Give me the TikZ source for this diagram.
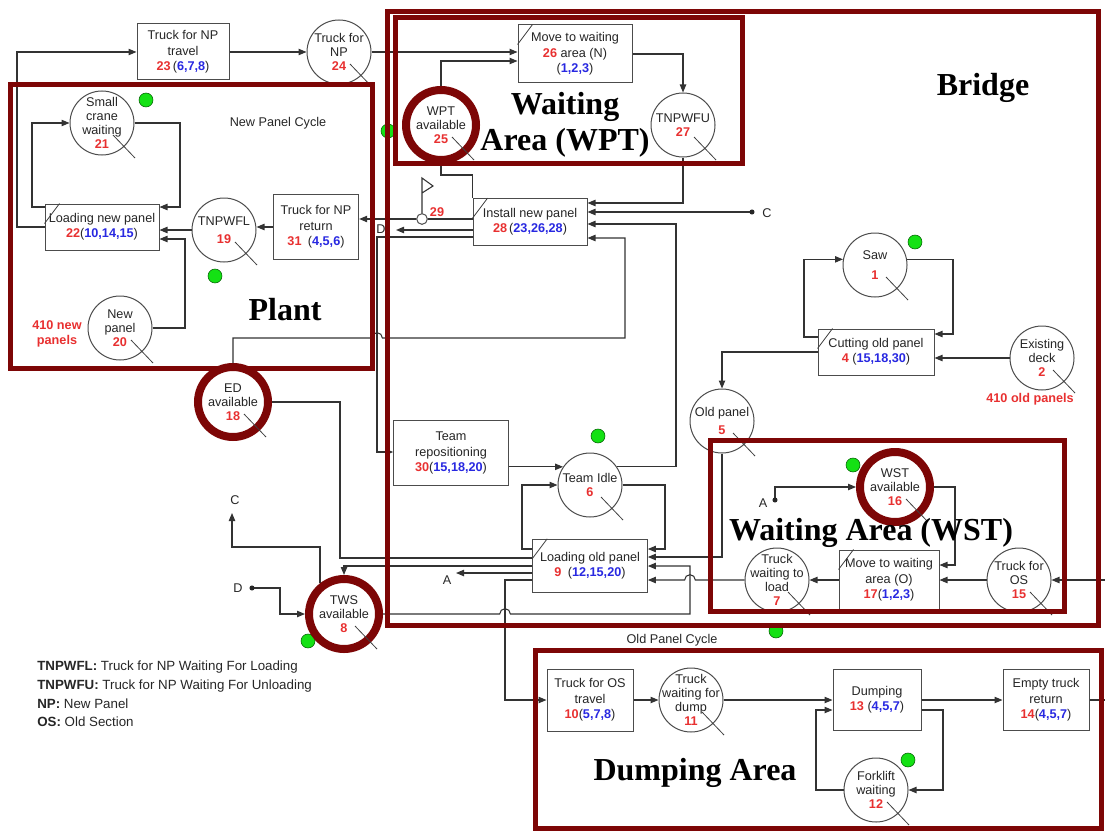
\documentclass[tikz,border=0pt]{standalone}
\usepackage{fontspec}
\setmainfont{Liberation Sans}
\newfontfamily\titlefont{Liberation Serif}
\usetikzlibrary{arrows.meta,calc}
\definecolor{zonered}{RGB}{125,6,6}
\definecolor{numred}{RGB}{232,48,48}
\definecolor{setblue}{RGB}{40,40,225}
\definecolor{dotgreen}{RGB}{20,225,20}
\newcommand{\pnum}[1]{\textcolor{numred}{\bfseries #1}}
\newcommand{\pset}[1]{(\textcolor{setblue}{\bfseries #1})}
\tikzset{
  nodefont/.style={font=\fontsize{9.5}{11.5}\selectfont},
  act/.style={rectangle, draw=black!70, line width=0.75pt, fill=white, text=black!85,
              align=center, inner sep=1pt, nodefont},
  que/.style={circle, draw=black!70, line width=0.75pt, fill=white, text=black!85,
              align=center, inner sep=-12pt, minimum size=48pt,
              font=\fontsize{9.5}{10.4}\selectfont},
  res/.style={que, draw=zonered, line width=6pt, minimum size=52.5pt},
  flagnode/.style={circle, draw=black!70, line width=0.75pt, fill=white,
                   minimum size=8pt, inner sep=0pt},
  ln/.style={line width=0.8pt, draw=black!80},
  arr/.style={ln, -{Triangle[length=6pt, width=4.8pt]}},
  lbl/.style={font=\fontsize{9.5}{11.5}\selectfont, text=black!85, inner sep=1pt},
  numlbl/.style={font=\fontsize{9.5}{11.5}\selectfont\bfseries, text=numred, inner sep=1pt},
  gdot/.style={fill=dotgreen, draw=green!35!black, line width=0.4pt},
  cnt/.style={line width=0.6pt, draw=black!75},
  zone/.style={draw=zonered, line width=3.75pt},
  ttl/.style={font=\titlefont\fontsize{24}{27}\selectfont\bfseries, inner sep=0pt},
}
\begin{document}
\begin{tikzpicture}[x=0.75pt, y=-0.75pt]
  \useasboundingbox (0,0) rectangle (1105,831);
  \foreach \gx/\gy in {146/100, 388/131, 215/276, 915/242, 598/436, 853/465, 776/631, 308/641, 908/760}
    \filldraw[gdot] (\gx,\gy) circle (5.25pt);

  \node[que] (n21) at (102,123) {Small\\crane\\waiting\\\pnum{21}};
  \node[act, minimum width=85.5pt, minimum height=34.5pt] (n22) at (102,227) {Loading new panel\\\pnum{22}\pset{10,14,15}};
  \node[que] (n19) at (224,230) {TNPWFL\\[3pt]\pnum{19}};
  \node[que] (n20) at (120,328) {New\\panel\\\pnum{20}};
  \node[act, minimum width=64pt, minimum height=49pt] (n31) at (316,227) {Truck for NP\\return\\\pnum{31}\enspace\pset{4,5,6}};
  \node[act, minimum width=69pt, minimum height=42pt] (n23) at (183,52) {Truck for NP\\travel\\\pnum{23}\,\pset{6,7,8}};
  \node[que] (n24) at (339,52) {Truck for\\NP\\\pnum{24}};
  \node[res] (n25) at (441,125) {WPT\\available\\\pnum{25}};
  \node[act, minimum width=85.5pt, minimum height=43.5pt] (n26) at (575,54) {Move to waiting\\\pnum{26} area (N)\\\pset{1,2,3}};
  \node[que] (n27) at (683,125) {TNPWFU\\\pnum{27}};
  \node[act, minimum width=85.5pt, minimum height=35pt] (n28) at (530,222) {Install new panel\\\pnum{28}\,\pset{23,26,28}};
  \node[flagnode] (n29) at (422,219) {};
  \node[numlbl] (l29) at (437,212) {29};
  \node[que] (n1) at (875,265) {Saw\\[5pt]\pnum{1}};
  \node[act, minimum width=87pt, minimum height=34.5pt] (n4) at (876,352) {Cutting old panel\\\pnum{4} \pset{15,18,30}};
  \node[que] (n2) at (1042,358) {Existing\\deck\\\pnum{2}};
  \node[numlbl] (l2) at (1030,399) {410 old panels};
  \node[que] (n5) at (722,421) {Old panel\\[3pt]\pnum{5}};
  \node[act, minimum width=86pt, minimum height=49pt] (n30) at (451,453) {Team\\repositioning\\\pnum{30}\pset{15,18,20}};
  \node[que] (n6) at (590,485) {Team Idle\\\pnum{6}};
  \node[act, minimum width=86pt, minimum height=40pt] (n9) at (590,566) {Loading old panel\\\pnum{9}\enspace\pset{12,15,20}};
  \node[res] (n18) at (233,402) {ED\\available\\\pnum{18}};
  \node[res] (n8) at (344,614) {TWS\\available\\\pnum{8}};
  \node[res] (n16) at (895,487) {WST\\available\\\pnum{16}};
  \node[act, minimum width=75pt, minimum height=45pt] (n17) at (889,580) {Move to waiting\\area (O)\\\pnum{17}\pset{1,2,3}};
  \node[que] (n7) at (777,580) {Truck\\waiting to\\load\\\pnum{7}};
  \node[que] (n15) at (1019,580) {Truck for\\OS\\\pnum{15}};
  \node[act, minimum width=64.5pt, minimum height=46.5pt] (n10) at (590,700) {Truck for OS\\travel\\\pnum{10}\pset{5,7,8}};
  \node[que] (n11) at (691,700) {Truck\\waiting for\\dump\\\pnum{11}};
  \node[act, minimum width=66pt, minimum height=46pt] (n13) at (877,700) {Dumping\\\pnum{13} \pset{4,5,7}};
  \node[act, minimum width=64.5pt, minimum height=46pt] (n14) at (1046,700) {Empty truck\\return\\\pnum{14}\pset{4,5,7}};
  \node[que] (n12) at (876,790) {Forklift\\waiting\\\pnum{12}};
  \node[numlbl, align=center] (l20) at (57,334) {410 new\\panels};

  \coordinate (cD1) at (396,230);
  \coordinate (cC1) at (752,212);
  \coordinate (cA1) at (456,573);
  \coordinate (cA2) at (775,500);
  \coordinate (cC2) at (232,513);
  \coordinate (cD2) at (252,588);
  \coordinate (cOS) at (1105,580);
  \coordinate (cEnd) at (1105,700);

  \draw[arr] (n22.west) -- (17,227) |- (n23.west);
  \draw[arr] (n22.west |- 0,207) -- (32,207) |- (n21.west);
  \draw[arr] (n21.east) -| (180,207) -- (n22.east |- 0,207);
  \draw[arr] (n19.west) -- (n22.east |- n19.west);
  \draw[arr] (n20.east) -| (185,239) -- (n22.east |- 0,239);
  \draw[arr] (n31.west) -- (n19.east |- n31.west);
  \draw[arr] (n23) -- (n24);
  \draw[arr] (n24.east) -- (n26.west |- n24.east);
  \draw[arr] (n25.north) |- (n26.west |- 0,61);
  \draw[arr] (n26.east) -| (n27.north);
  \draw[ln] (n25.south) |- (n28.north west |- 0,175) -- (n28.north west);
  \draw[arr] (n27.south) |- (n28.east |- 0,203);
  \draw[ln] (n28.west |- 0,219) -- (n29);
  \draw[arr] (n29) -- (n31.east |- n29);
  \draw[ln] (n29.north) -- (422,178) -- (433,186) -- (422,193);
  \draw[arr] (n28.west |- 0,230) -- (cD1);
  \draw[arr] (n28.west |- 0,237) -| (377,452) -- (n30.west |- 0,452);
  \draw[arr] (n18.north) |- (371.7,338) arc[start angle=180, end angle=0, radius=4pt] -- (625,338) |- (n28.east |- 0,238);
  \draw[arr] (cC1) -- (n28.east |- cC1);
  \draw[arr] (n30.east |- n6.146) -- (n6.146);
  \draw[arr] (n6.34) -| (676,224) -- (n28.east |- 0,224);
  \draw[arr] (n6.east) -| (665,549) -- (n9.east |- 0,549);
  \draw[arr] (n9.west |- 0,549) -- (522,549) |- (n6.west);
  \draw[arr] (n5.south) |- (n9.east |- 0,557);
  \draw[arr] (n7.west) -- (695.3,580) arc[start angle=0, end angle=180, radius=4pt] -- (n9.east |- n7.west);
  \draw[arr] (n8.east) -- (499.7,614) arc[start angle=180, end angle=0, radius=4pt] -- (690,614) |- (n9.east |- 0,566);
  \draw[ln] (n18.east) -| (340,558) -- (n9.west |- 0,558);
  \draw[arr] (n9.west |- 0,566) -| (n8.north);
  \draw[arr] (n9.west |- 0,573) -- (cA1);
  \draw[arr] (n9.west |- 0,580) -| (505,700) -- (n10.west);
  \draw[arr] (n8.128) |- (232,547) -- (cC2);
  \draw[arr] (cD2) -- (280,588) |- (n8.west);
  \draw[arr] (n1.10) -| (953,334) -- (n4.east |- 0,334);
  \draw[arr] (n4.west |- 0,337) -- (804,337) |- (n1.170);
  \draw[arr] (n2.west) -- (n4.east |- n2.west);
  \draw[arr] (n4.west) -| (n5.north);
  \draw[arr] (cA2) |- (n16.west);
  \draw[arr] (n16.east) -| (955,565) -- (n17.east |- 0,565);
  \draw[arr] (n15.west) -- (n17.east |- n15.west);
  \draw[arr] (n17.west) -- (n7.east);
  \draw[arr] (cOS) -- (n15.east);
  \draw[arr] (n10) -- (n11);
  \draw[arr] (n11) -- (n13);
  \draw[arr] (n12.west) -- (816,790) |- (n13.west |- 0,710);
  \draw[arr] (n13.east |- 0,710) -- (943,710) |- (n12.east);
  \draw[arr] (n13) -- (n14);
  \draw[ln] (n14) -- (cEnd);
  \foreach \c in {cC1,cA2,cD2}
    \fill[black!85] (\c) circle (1.9pt);

  \foreach \n in {n24,n21,n19,n20,n25,n27,n1,n2,n5,n6,n16,n7,n15,n18,n8,n11,n12}
    \draw[cnt] ($(\n)+(11,12)$) -- ($(\n)+(33,35)$);
  \foreach \n in {n22,n26,n28,n4,n9,n17}
    \draw[cnt] ($(\n.north west)+(0,20)$) -- ($(\n.north west)+(15,0)$);

  \node[lbl] (lD1) at (381,229) {D};
  \node[lbl] (lC1) at (767,213) {C};
  \node[lbl] (lA1) at (447,580) {A};
  \node[lbl] (lA2) at (763,503) {A};
  \node[lbl] (lC2) at (235,500) {C};
  \node[lbl] (lD2) at (238,588) {D};
  \node[lbl] (lNew) at (278,123) {New Panel Cycle};
  \node[lbl] (lOld) at (672,640) {Old Panel Cycle};
  \node[anchor=north west, align=left, font=\fontsize{10}{13.9}\selectfont, text=black!85, inner sep=0pt]
    (legend) at (37,661) {\textbf{TNPWFL:} Truck for NP Waiting For Loading\\\textbf{TNPWFU:} Truck for NP Waiting For Unloading\\\textbf{NP:} New Panel\\\textbf{OS:} Old Section};

  \draw[zone] (10,85) rectangle (372,368);
  \draw[zone] (387,12) rectangle (1098,625);
  \draw[zone] (395,18) rectangle (742,163);
  \draw[zone] (710,440) rectangle (1064,611);
  \draw[zone] (535,650) rectangle (1101,828);

  \node[ttl] (tBridge) at (983,88) {Bridge};
  \node[ttl, align=center] (tWPT) at (565,125) {Waiting\\Area (WPT)};
  \node[ttl] (tPlant) at (285,310) {Plant};
  \node[ttl] (tWST) at (871,533) {Waiting Area (WST)};
  \node[ttl] (tDump) at (695,773) {Dumping Area};
\end{tikzpicture}
\end{document}
